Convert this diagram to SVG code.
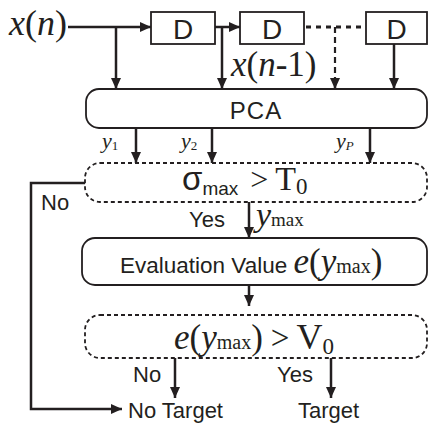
<svg xmlns="http://www.w3.org/2000/svg" width="429" height="423" viewBox="0 0 429 423">
<defs>
<marker id="ah" markerWidth="10" markerHeight="10" refX="11" refY="5" orient="auto" markerUnits="userSpaceOnUse">
<path d="M0,0 L11,5 L0,10 Z" fill="#231f20"/>
</marker>
<style>
.sans{font-family:"Liberation Sans",Arial,sans-serif;fill:#231f20}
.serif{font-family:"Liberation Serif","Times New Roman",serif;fill:#231f20}
.it{font-style:italic}
.box{fill:none;stroke:#231f20;stroke-width:1.8}
.dbox{fill:none;stroke:#231f20;stroke-width:1.8;stroke-dasharray:4 3}
.arr{fill:none;stroke:#231f20;stroke-width:2.5;marker-end:url(#ah)}
</style>
</defs>
<rect width="429" height="423" fill="#fff"/>
<g id="connectors">
<path class="arr" d="M68,27 H151"/>
<path class="arr" d="M116,27 V89"/>
<path class="arr" d="M215,27 H240"/>
<path class="arr" d="M222,27 V89"/>
<path d="M306,27 H366" fill="none" stroke="#231f20" stroke-width="3" stroke-dasharray="5 5"/>
<path d="M335,27 V79" fill="none" stroke="#231f20" stroke-width="2.2" stroke-dasharray="6 4"/>
<path class="arr" d="M335,79 V89"/>
<path class="arr" d="M394,44 V89"/>
<path class="arr" d="M136,128 V163"/>
<path class="arr" d="M212,128 V163"/>
<path class="arr" d="M370,128 V163"/>
<path class="arr" d="M249,202 V238"/>
<path class="arr" d="M249,285 V306"/>
<path class="arr" d="M175,358 V398"/>
<path class="arr" d="M331,358 V398"/>
<path class="arr" d="M85,183 H31 V409 H122"/>
</g>
<g id="input">
<text class="serif" x="9" y="35" font-size="36"><tspan class="it">x</tspan>(<tspan class="it">n</tspan>)</text>
</g>
<g id="delay1">
<rect class="box" x="151" y="12" width="64" height="32"/>
<text class="sans" x="183" y="38.5" font-size="28" text-anchor="middle">D</text>
</g>
<g id="delay2">
<rect class="box" x="240" y="12" width="64" height="32"/>
<text class="sans" x="272" y="38.5" font-size="28" text-anchor="middle">D</text>
</g>
<g id="delay3">
<rect class="box" x="366" y="12" width="61" height="32"/>
<text class="sans" x="396.5" y="38.5" font-size="28" text-anchor="middle">D</text>
</g>
<g id="label-xn1">
<text class="serif" x="231" y="76" font-size="35"><tspan class="it">x</tspan>(<tspan class="it">n</tspan>-1)</text>
</g>
<g id="pca">
<rect class="box" x="86" y="89" width="341" height="39" rx="13"/>
<text class="sans" x="256" y="119" font-size="24" text-anchor="middle" letter-spacing="1">PCA</text>
</g>
<g id="outputs">
<text class="serif it" x="102" y="148" font-size="22">y<tspan font-style="normal" font-size="13" dy="2">1</tspan></text>
<text class="serif it" x="181" y="148" font-size="22">y<tspan font-style="normal" font-size="13" dy="2">2</tspan></text>
<text class="serif it" x="336" y="148" font-size="22">y<tspan font-size="13" dy="2">P</tspan></text>
</g>
<g id="decision1">
<rect class="dbox" x="85" y="163" width="342" height="39" rx="15"/>
<text x="182" y="190"><tspan class="sans" font-size="33">σ</tspan><tspan class="sans" font-size="19" dy="5">max</tspan><tspan class="serif" font-size="32" dy="-5" dx="12">&gt;</tspan><tspan class="serif" font-size="34" dx="7">T</tspan><tspan class="serif" font-size="23" dy="4">0</tspan></text>
</g>
<g id="labels1">
<text class="sans" x="41" y="210" font-size="22">No</text>
<text class="sans" x="189" y="227" font-size="22">Yes</text>
<text class="serif" x="256" y="226"><tspan class="it" font-size="34">y</tspan><tspan font-size="19">max</tspan></text>
</g>
<g id="evaluation">
<rect class="box" x="82" y="238" width="345" height="47" rx="13"/>
<text x="120" y="273"><tspan class="sans" font-size="22.5">Evaluation Value </tspan><tspan class="serif it" font-size="35">e</tspan><tspan class="serif" font-size="35">(</tspan><tspan class="serif it" font-size="35">y</tspan><tspan class="serif" font-size="20">max</tspan><tspan class="serif" font-size="35">)</tspan></text>
</g>
<g id="decision2">
<rect class="dbox" x="85" y="315" width="342" height="43" rx="15"/>
<text x="174" y="349"><tspan class="serif it" font-size="35">e</tspan><tspan class="serif" font-size="35">(</tspan><tspan class="serif it" font-size="35">y</tspan><tspan class="serif" font-size="20">max</tspan><tspan class="serif" font-size="35">)</tspan><tspan class="serif" font-size="33" dx="8">&gt;</tspan><tspan class="serif" font-size="36" dx="7">V</tspan><tspan class="serif" font-size="23" dy="5">0</tspan></text>
</g>
<g id="labels2">
<text class="sans" x="133" y="382" font-size="22">No</text>
<text class="sans" x="277" y="382" font-size="22">Yes</text>
</g>
<g id="no-target">
<text class="sans" x="128" y="418" font-size="22">No Target</text>
</g>
<g id="target">
<text class="sans" x="298" y="418" font-size="22">Target</text>
</g>
</svg>
